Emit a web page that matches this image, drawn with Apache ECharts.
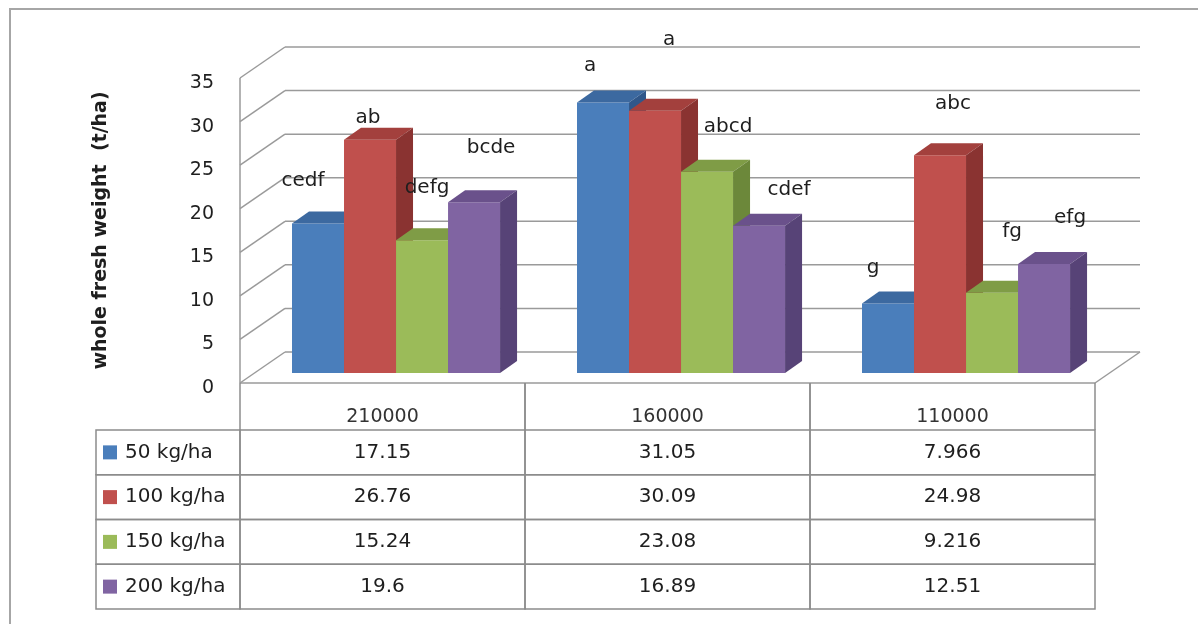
<!DOCTYPE html>
<html>
<head>
<meta charset="utf-8">
<script src="https://cdn.jsdelivr.net/npm/echarts@6/dist/echarts.min.js"></script>
<style>
html, body { margin: 0; padding: 0; background: #ffffff; }
#chart { width: 1198px; height: 624px; }
</style>
</head>
<body>
<div id="chart"></div>
<script>
// Plant density categories and nitrogen rate series
const categories = ['210000', '160000', '110000'];
const seriesNames = ['50 kg/ha', '100 kg/ha', '150 kg/ha', '200 kg/ha'];

// whole fresh weight (t/ha)
const rate50 = [17.15, 31.05, 7.966];
const rate100 = [26.76, 30.09, 24.98];
const rate150 = [15.24, 23.08, 9.216];
const rate200 = [19.6, 16.89, 12.51];

// mean separation letters
const letters50 = ['cedf', 'a', 'g'];
const letters100 = ['ab', 'a', 'abc'];
const letters150 = ['defg', 'abcd', 'fg'];
const letters200 = ['bcde', 'cdef', 'efg'];

const yTicks = [0, 5, 10, 15, 20, 25, 30, 35];

// ---- styling / layout ----
const FONT = 'DejaVu Sans';
const TEXT = '#1e1e1e';
const GRID_LINE = '#9a9a9a';
const TABLE_LINE = '#8c8c8c';

// 3D projection of the plot box (depth direction)
const WALL_DX = 45, WALL_DY = -31;
const FRONT_DX = 14.5, FRONT_DY = -10;   // bar front plane
const BAR_DX = 17, BAR_DY = -12;         // bar depth
const GROUP_START = 0.1316;              // fraction of band before first bar
const BAR_W = 0.1825;                    // bar width as fraction of band

const faces = [
  { front: '#4a7ebb', top: '#3c69a0', side: '#30578a' },
  { front: '#c0504d', top: '#a3403d', side: '#8a3331' },
  { front: '#9bbb59', top: '#7f9c46', side: '#6c883a' },
  { front: '#8064a2', top: '#6a518b', side: '#574377' }
];

// letter label offsets from the top-front centre of each bar (px)
const labelOffsets = [
  [[-15, -43], [-13, -37], [-15, -36]],
  [[-2, -22], [14, -71], [13, -52]],
  [[5, -52], [21, -45], [20, -61]],
  [[17, -54], [30, -36], [26, -46]]
];

const LEGEND_W = 144;   // legend column width of the data table
const HEADER_H = 47;    // header row height of the data table

const seriesValues = [rate50, rate100, rate150, rate200];
const seriesLetters = [letters50, letters100, letters150, letters200];

function seg(x1, y1, x2, y2, color, w) {
  return {
    type: 'line',
    shape: { x1: x1, y1: y1, x2: x2, y2: y2 },
    style: { stroke: color, lineWidth: w }
  };
}

function barGeom(api, si) {
  const c = api.value(0), v = api.value(1);
  const base = api.coord([c, 0]);
  const top = api.coord([c, v]);
  const band = api.size([1, 0])[0];
  const w = band * BAR_W;
  const x0 = base[0] - band / 2 + band * GROUP_START + si * w + FRONT_DX;
  return { x0: x0, w: w, y0: base[1] + FRONT_DY, yv: top[1] + FRONT_DY };
}

function barRenderer(si) {
  const f = faces[si];
  return function (params, api) {
    const g = barGeom(api, si);
    const x0 = g.x0, x1 = g.x0 + g.w, y0 = g.y0, yv = g.yv;
    return {
      type: 'group',
      children: [
        { type: 'rect', shape: { x: x0, y: yv, width: g.w, height: y0 - yv },
          style: { fill: f.front } },
        { type: 'polygon', shape: { points: [[x0, yv], [x1, yv], [x1 + BAR_DX, yv + BAR_DY], [x0 + BAR_DX, yv + BAR_DY]] },
          style: { fill: f.top } },
        { type: 'polygon', shape: { points: [[x1, yv], [x1 + BAR_DX, yv + BAR_DY], [x1 + BAR_DX, y0 + BAR_DY], [x1, y0]] },
          style: { fill: f.side } }
      ]
    };
  };
}

function labelRenderer(si) {
  return function (params, api) {
    const g = barGeom(api, si);
    const c = api.value(0);
    const off = labelOffsets[si][c];
    return {
      type: 'text',
      style: {
        text: seriesLetters[si][c],
        x: g.x0 + g.w / 2 + off[0],
        y: g.yv + off[1],
        align: 'center',
        verticalAlign: 'middle',
        fontFamily: FONT,
        fontSize: 20,
        fill: TEXT
      }
    };
  };
}

// walls, floor and grid lines of the 3D box
function wallRenderer(params, api) {
  const cs = params.coordSys;
  const t = api.value(1);
  const y = api.coord([0, t])[1];
  const children = [
    seg(cs.x, y, cs.x + WALL_DX, y + WALL_DY, GRID_LINE, 1.5),
    seg(cs.x + WALL_DX, y + WALL_DY, cs.x + cs.width + WALL_DX, y + WALL_DY, GRID_LINE, 1.5)
  ];
  if (t === 0) {
    children.push(seg(cs.x, y, cs.x + cs.width, y, GRID_LINE, 1.5));
    children.push(seg(cs.x + cs.width, y, cs.x + cs.width + WALL_DX, y + WALL_DY, GRID_LINE, 1.5));
    children.push(seg(cs.x, y, cs.x, cs.y, GRID_LINE, 1.5));
  }
  return { type: 'group', children: children };
}

// data table cells
function tableRenderer(params, api) {
  const c = api.value(0), s = api.value(1);
  const ctr = api.coord([c, s]);
  const size = api.size([1, 1]);
  const x = ctr[0] - size[0] / 2, y = ctr[1] - size[1] / 2;
  const children = [
    { type: 'rect', shape: { x: x, y: y, width: size[0], height: size[1] },
      style: { fill: 'none', stroke: TABLE_LINE, lineWidth: 1.5 } },
    { type: 'text', style: {
        text: String(seriesValues[s][c]), x: ctr[0], y: ctr[1],
        align: 'center', verticalAlign: 'middle',
        fontFamily: FONT, fontSize: 20, fill: TEXT } }
  ];
  if (c === 0) {
    children.push({ type: 'rect', shape: { x: x - LEGEND_W, y: y, width: LEGEND_W, height: size[1] },
      style: { fill: 'none', stroke: TABLE_LINE, lineWidth: 1.5 } });
  }
  if (s === 0) {
    children.push(seg(x, y - HEADER_H, x, y, TABLE_LINE, 1.5));
    children.push(seg(x + size[0], y - HEADER_H, x + size[0], y, TABLE_LINE, 1.5));
  }
  return { type: 'group', children: children };
}

const tableData = [];
seriesValues.forEach(function (vals, s) {
  vals.forEach(function (v, c) { tableData.push([c, s, v]); });
});

const rich = { t: { fontFamily: FONT, fontSize: 20, color: TEXT, padding: [0, 0, 0, 8] } };
faces.forEach(function (f, i) {
  rich['k' + i] = { width: 14, height: 14, backgroundColor: f.front };
});

const series = [{
  type: 'custom',
  xAxisIndex: 0, yAxisIndex: 0,
  renderItem: wallRenderer,
  data: yTicks.map(function (t) { return [0, t]; }),
  z: 1, silent: true
}];
seriesValues.forEach(function (vals, si) {
  series.push({
    type: 'custom', name: seriesNames[si],
    xAxisIndex: 0, yAxisIndex: 0,
    renderItem: barRenderer(si),
    encode: { x: 0, y: 1 },
    data: vals.map(function (v, i) { return [i, v]; }),
    z: 2 + si
  });
});
seriesValues.forEach(function (vals, si) {
  series.push({
    type: 'custom',
    xAxisIndex: 0, yAxisIndex: 0,
    renderItem: labelRenderer(si),
    data: vals.map(function (v, i) { return [i, v]; }),
    z: 10, silent: true
  });
});
series.push({
  type: 'custom',
  xAxisIndex: 1, yAxisIndex: 1,
  renderItem: tableRenderer,
  encode: { x: 0, y: 1 },
  data: tableData,
  z: 5, silent: true
});

const chart = echarts.init(document.getElementById('chart'), null, { renderer: 'canvas' });
chart.setOption({
  animation: false,
  backgroundColor: '#ffffff',
  textStyle: { fontFamily: FONT },
  graphic: [{
    type: 'rect',
    shape: { x: 10, y: 9, width: 1220, height: 660 },
    style: { fill: 'none', stroke: '#a6a6a6', lineWidth: 2 },
    silent: true
  }],
  grid: [
    { left: 240, right: 103, top: 78, bottom: 241 },
    { left: 240, right: 103, top: 430, bottom: 15 }
  ],
  xAxis: [
    { type: 'category', gridIndex: 0, data: categories, show: false },
    { type: 'category', gridIndex: 1, data: categories, position: 'top',
      axisLine: { show: false }, axisTick: { show: false },
      axisLabel: { fontFamily: FONT, fontSize: 19, color: '#333', margin: 3 } }
  ],
  yAxis: [
    { type: 'value', gridIndex: 0, min: 0, max: 35, interval: 5,
      name: 'whole fresh weight  (t/ha)', nameLocation: 'middle', nameRotate: 90, nameGap: 129,
      nameTextStyle: { fontFamily: FONT, fontSize: 19, fontWeight: 'bold', color: TEXT },
      axisLine: { show: false }, axisTick: { show: false }, splitLine: { show: false },
      axisLabel: { fontFamily: FONT, fontSize: 19, color: TEXT, margin: 26,
        verticalAlign: 'top', lineHeight: 10 } },
    { type: 'category', gridIndex: 1, data: seriesNames, inverse: true,
      axisLine: { show: false }, axisTick: { show: false },
      axisLabel: { align: 'left', margin: 137, rich: rich,
        formatter: function (val, idx) { return '{k' + idx + '|}{t|' + val + '}'; } } }
  ],
  series: series
});
</script>
</body>
</html>
